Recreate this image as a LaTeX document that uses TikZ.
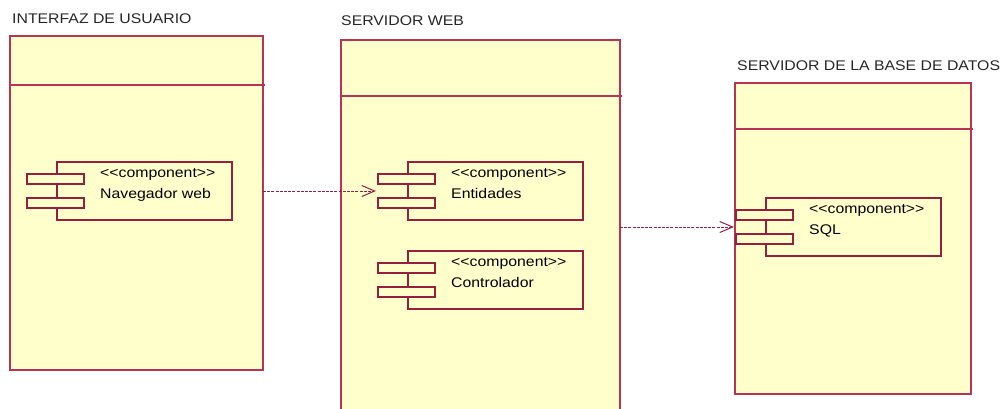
\documentclass[tikz,border=0pt]{standalone}
\usepackage{fontspec}
\setmainfont{Liberation Sans}[FakeStretch=1.13]
\usetikzlibrary{arrows.meta}

\definecolor{nodefill}{RGB}{255,255,204}
\definecolor{nodeline}{RGB}{184,52,84}
\definecolor{partline}{RGB}{150,30,62}
\definecolor{linkline}{RGB}{150,30,75}

\tikzset{
  box/.style={draw=nodeline, fill=nodefill, line width=1.4pt, anchor=north west, inner sep=0pt, outer sep=0pt},
  part/.style={draw=partline, fill=nodefill, line width=1.2pt},
  label/.style={anchor=base west, inner sep=0pt, font=\fontsize{14}{16}\selectfont},
  dep/.style={draw=linkline, dash pattern=on 3pt off 1.2pt, line width=1pt, shorten >=2pt,
              -{Straight Barb[length=13pt,width=11pt,line width=1pt]}},
}

% component symbol: name, top left corner, label
\newcommand{\umlcomp}[3]{%
  \begin{scope}[shift={(#2)}]
    \node[box, draw=partline, line width=1.2pt, minimum width=175pt, minimum height=58pt] (#1) at (0,0) {};
    \draw[part] (-30,12) rectangle (27,22);
    \draw[part] (-30,36) rectangle (27,46);
    \node[label] (#1-st) at (43,15) {<{}<component>{}>};
    \node[label] (#1-nm) at (43,36) {#3};
    \coordinate (#1-in) at (-30,29);
  \end{scope}}

\begin{document}
\begin{tikzpicture}[x=1pt,y=-1pt]

\useasboundingbox (0,0) rectangle (1004,408);
\clip (0,0) rectangle (1004,408);

% nodes
\node[box, minimum width=253pt, minimum height=334pt] (ui) at (10,36) {};
\node[box, minimum width=279pt, minimum height=380pt] (web) at (341,40) {};
\node[box, minimum width=236pt, minimum height=311pt] (db) at (735,83) {};

\draw[nodeline, line width=1.2pt] ([yshift=-49pt]ui.north west) -- ([yshift=-49pt,xshift=2pt]ui.north east);
\draw[nodeline, line width=1.2pt] ([yshift=-56pt]web.north west) -- ([yshift=-56pt,xshift=2pt]web.north east);
\draw[nodeline, line width=1.2pt] ([yshift=-46pt]db.north west) -- ([yshift=-46pt,xshift=2pt]db.north east);

\node[label, text=black!85] (ui-title) at (12,23) {INTERFAZ DE USUARIO};
\node[label, text=black!85] (web-title) at (341,25) {SERVIDOR WEB};
\node[label, text=black!85] (db-title) at (737,70) {SERVIDOR DE LA BASE DE DATOS};

% components
\umlcomp{nav}{57,162}{Navegador web}
\umlcomp{ent}{408,162}{Entidades}
\umlcomp{ctl}{408,251}{Controlador}
\umlcomp{sql}{766,198}{SQL}

% dependencies
\draw[dep] (ui.east |- nav-in) -- (ent-in);
\draw[dep] (web.east |- sql-in) -- (sql-in);

\end{tikzpicture}
\end{document}
